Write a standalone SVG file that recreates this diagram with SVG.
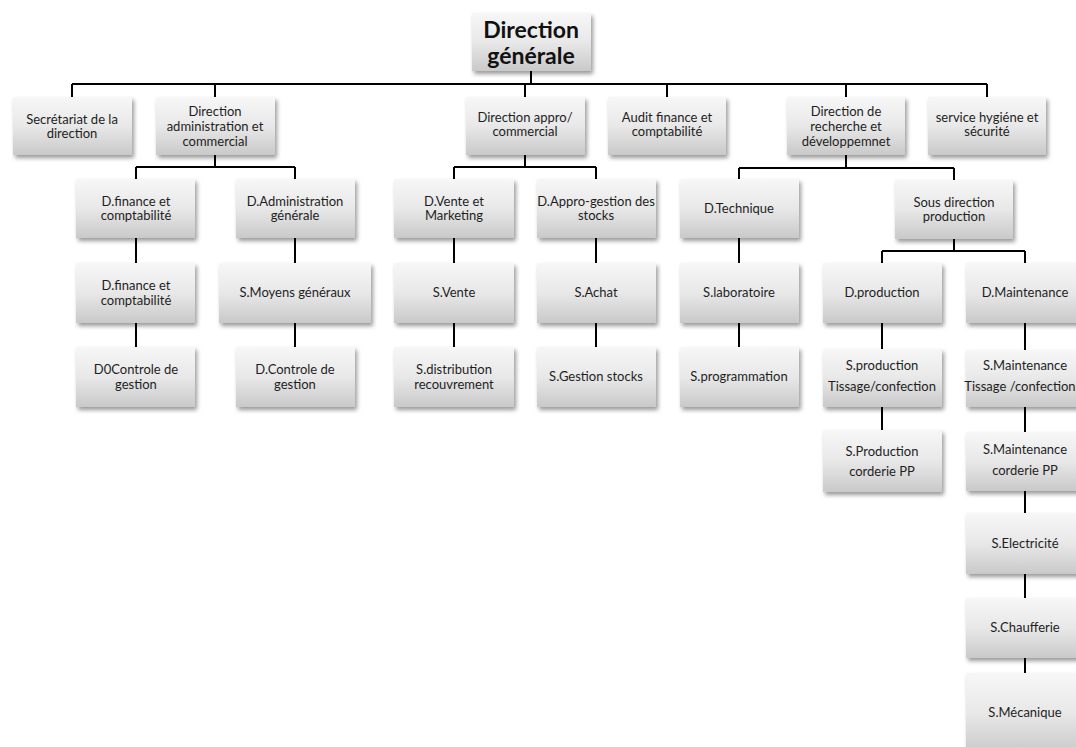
<svg xmlns="http://www.w3.org/2000/svg" width="1076" height="747" viewBox="0 0 1076 747">
  <defs>
    <linearGradient id="boxFill" x1="0" y1="0" x2="0" y2="1">
      <stop offset="0" stop-color="#f7f7f7"/>
      <stop offset="0.5" stop-color="#e8e8e8"/>
      <stop offset="1" stop-color="#c9c9c9"/>
    </linearGradient>
    <filter id="shadow" x="-10%" y="-10%" width="125%" height="135%">
      <feDropShadow dx="2" dy="3" stdDeviation="2" flood-color="#000" flood-opacity="0.4"/>
    </filter>
  </defs>
  <style>
    .box { fill: url(#boxFill); filter: url(#shadow); }
    .lbl { font-family: Lato, "Liberation Sans", sans-serif; font-size: 13px; fill: #1e1e1e; text-anchor: middle; }
    .title { font-family: Lato, "Liberation Sans", sans-serif; font-size: 23px; font-weight: bold; fill: #111; text-anchor: middle; }
    .wire { stroke: #000; stroke-width: 2; fill: none; }
  </style>
  <rect width="1076" height="747" fill="#fff"/>

  <!-- connectors -->
  <g id="connectors" class="wire">
    <path d="M531 71V84M72 84H987"/>
    <path d="M72 84V97M215 84V97M525 84V97M667 84V97M846 84V97M987 84V97"/>
    <path d="M215 155V167M136 167H295M136 167V179M295 167V179"/>
    <path d="M525 155V167M454 167H596M454 167V179M596 167V179"/>
    <path d="M846 155V168M739 168H954M739 168V180M954 168V180"/>
    <path d="M954 239V251M882 251H1025M882 251V263M1025 251V263"/>
    <path d="M136 238V263M136 323V347"/>
    <path d="M295 238V263M295 323V347"/>
    <path d="M454 238V263M454 323V347"/>
    <path d="M596 238V263M596 323V347"/>
    <path d="M739 238V263M739 323V347"/>
    <path d="M882 323V349M882 407V430"/>
    <path d="M1025 323V350M1025 407V432M1025 491V513M1025 574V598M1025 658V673"/>
  </g>

  <!-- top level -->
  <g id="direction-generale">
    <rect class="box" x="472" y="13" width="119" height="58"/>
    <text class="title" x="531" y="38">Direction</text>
    <text class="title" x="531" y="64">générale</text>
  </g>

  <!-- level 1 -->
  <g id="secretariat">
    <rect class="box" x="13" y="97" width="119" height="58"/>
    <text class="lbl" x="72" y="124">Secrétariat de la</text>
    <text class="lbl" x="72" y="138">direction</text>
  </g>
  <g id="dir-admin">
    <rect class="box" x="156" y="97" width="119" height="58"/>
    <text class="lbl" x="215" y="116">Direction</text>
    <text class="lbl" x="215" y="131">administration et</text>
    <text class="lbl" x="215" y="146">commercial</text>
  </g>
  <g id="dir-appro">
    <rect class="box" x="466" y="97" width="119" height="58"/>
    <text class="lbl" x="525" y="122">Direction appro/</text>
    <text class="lbl" x="525" y="136">commercial</text>
  </g>
  <g id="audit">
    <rect class="box" x="608" y="97" width="118" height="58"/>
    <text class="lbl" x="667" y="122">Audit finance et</text>
    <text class="lbl" x="667" y="136">comptabilité</text>
  </g>
  <g id="dir-rd">
    <rect class="box" x="787" y="97" width="118" height="58"/>
    <text class="lbl" x="846" y="116">Direction de</text>
    <text class="lbl" x="846" y="131">recherche et</text>
    <text class="lbl" x="846" y="146">développemnet</text>
  </g>
  <g id="hygiene">
    <rect class="box" x="928" y="97" width="118" height="58"/>
    <text class="lbl" x="987" y="122">service hygiéne et</text>
    <text class="lbl" x="987" y="136">sécurité</text>
  </g>

  <!-- level 2 -->
  <g id="d-finance-1">
    <rect class="box" x="76" y="179" width="119" height="59"/>
    <text class="lbl" x="136" y="206">D.finance et</text>
    <text class="lbl" x="136" y="220">comptabilité</text>
  </g>
  <g id="d-administration">
    <rect class="box" x="236" y="179" width="119" height="59"/>
    <text class="lbl" x="295" y="206">D.Administration</text>
    <text class="lbl" x="295" y="220">générale</text>
  </g>
  <g id="d-vente">
    <rect class="box" x="394" y="179" width="120" height="59"/>
    <text class="lbl" x="454" y="206">D.Vente et</text>
    <text class="lbl" x="454" y="220">Marketing</text>
  </g>
  <g id="d-appro">
    <rect class="box" x="537" y="179" width="119" height="59"/>
    <text class="lbl" x="596" y="206">D.Appro-gestion des</text>
    <text class="lbl" x="596" y="220">stocks</text>
  </g>
  <g id="d-technique">
    <rect class="box" x="680" y="179" width="119" height="59"/>
    <text class="lbl" x="739" y="213">D.Technique</text>
  </g>
  <g id="sous-direction">
    <rect class="box" x="895" y="180" width="118" height="59"/>
    <text class="lbl" x="954" y="207">Sous direction</text>
    <text class="lbl" x="954" y="221">production</text>
  </g>

  <!-- level 3 -->
  <g id="d-finance-2">
    <rect class="box" x="76" y="263" width="119" height="60"/>
    <text class="lbl" x="136" y="290">D.finance et</text>
    <text class="lbl" x="136" y="305">comptabilité</text>
  </g>
  <g id="s-moyens">
    <rect class="box" x="219" y="263" width="152" height="60"/>
    <text class="lbl" x="295" y="297">S.Moyens généraux</text>
  </g>
  <g id="s-vente">
    <rect class="box" x="394" y="263" width="120" height="60"/>
    <text class="lbl" x="454" y="297">S.Vente</text>
  </g>
  <g id="s-achat">
    <rect class="box" x="537" y="263" width="119" height="60"/>
    <text class="lbl" x="596" y="297">S.Achat</text>
  </g>
  <g id="s-laboratoire">
    <rect class="box" x="680" y="263" width="119" height="60"/>
    <text class="lbl" x="739" y="297">S.laboratoire</text>
  </g>
  <g id="d-production">
    <rect class="box" x="823" y="263" width="119" height="60"/>
    <text class="lbl" x="882" y="297">D.production</text>
  </g>
  <g id="d-maintenance">
    <rect class="box" x="966" y="263" width="118" height="60"/>
    <text class="lbl" x="1025" y="297">D.Maintenance</text>
  </g>

  <!-- level 4 -->
  <g id="d0-controle">
    <rect class="box" x="76" y="347" width="119" height="60"/>
    <text class="lbl" x="136" y="374">D0Controle de</text>
    <text class="lbl" x="136" y="389">gestion</text>
  </g>
  <g id="d-controle">
    <rect class="box" x="236" y="347" width="119" height="60"/>
    <text class="lbl" x="295" y="374">D.Controle de</text>
    <text class="lbl" x="295" y="389">gestion</text>
  </g>
  <g id="s-distribution">
    <rect class="box" x="394" y="347" width="120" height="60"/>
    <text class="lbl" x="454" y="374">S.distribution</text>
    <text class="lbl" x="454" y="389">recouvrement</text>
  </g>
  <g id="s-gestion-stocks">
    <rect class="box" x="537" y="347" width="119" height="60"/>
    <text class="lbl" x="596" y="381">S.Gestion stocks</text>
  </g>
  <g id="s-programmation">
    <rect class="box" x="680" y="347" width="119" height="60"/>
    <text class="lbl" x="739" y="381">S.programmation</text>
  </g>
  <g id="s-production-tissage">
    <rect class="box" x="823" y="349" width="119" height="58"/>
    <text class="lbl" x="882" y="370">S.production</text>
    <text class="lbl" x="882" y="391">Tissage/confection</text>
  </g>
  <g id="s-maintenance-tissage">
    <rect class="box" x="966" y="350" width="118" height="57"/>
    <text class="lbl" x="1025" y="370">S.Maintenance</text>
    <text class="lbl" x="1020" y="391" font-size="12.5">Tissage /confection</text>
  </g>

  <!-- level 5 and below -->
  <g id="s-production-corderie">
    <rect class="box" x="823" y="430" width="119" height="62"/>
    <text class="lbl" x="882" y="456">S.Production</text>
    <text class="lbl" x="882" y="476">corderie PP</text>
  </g>
  <g id="s-maintenance-corderie">
    <rect class="box" x="966" y="432" width="118" height="59"/>
    <text class="lbl" x="1025" y="454">S.Maintenance</text>
    <text class="lbl" x="1025" y="475">corderie PP</text>
  </g>
  <g id="s-electricite">
    <rect class="box" x="966" y="513" width="118" height="61"/>
    <text class="lbl" x="1025" y="548">S.Electricité</text>
  </g>
  <g id="s-chaufferie">
    <rect class="box" x="966" y="598" width="118" height="60"/>
    <text class="lbl" x="1025" y="632">S.Chaufferie</text>
  </g>
  <g id="s-mecanique">
    <rect class="box" x="966" y="673" width="118" height="80"/>
    <text class="lbl" x="1025" y="717">S.Mécanique</text>
  </g>
</svg>
